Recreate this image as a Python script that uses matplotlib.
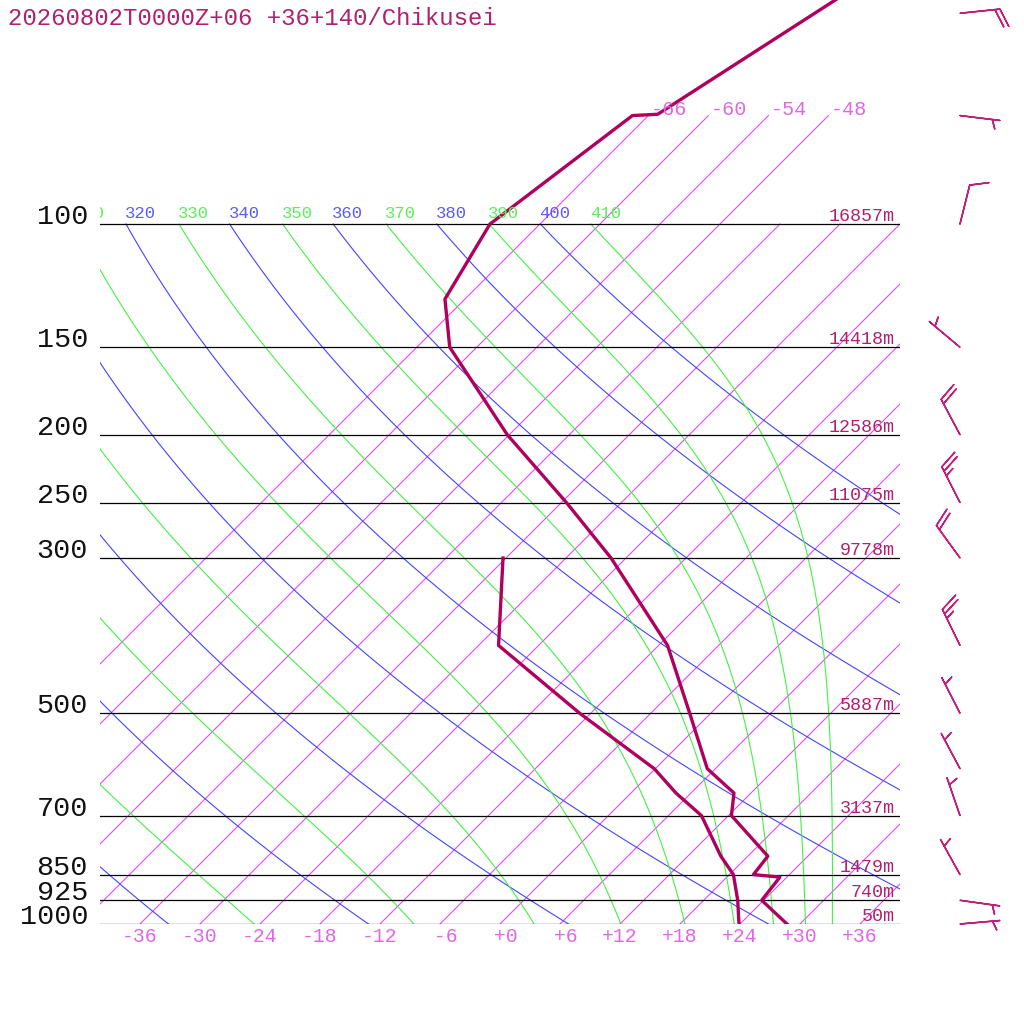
"""Skew-T log-P sounding, Chikusei 2026-08-02 00Z +06h."""

import numpy as np
import matplotlib
matplotlib.use("Agg")
import matplotlib.pyplot as plt
from matplotlib.transforms import Affine2D, blended_transform_factory

plt.rcParams["font.family"] = ["Liberation Mono", "DejaVu Sans Mono"]

TITLE = "20260802T0000Z+06 +36+140/Chikusei"

# temperature profile (hPa, degC)
T_PRES = [1000, 925, 857, 850, 800, 700, 650, 600, 500, 400, 300, 250,
          200, 150, 128, 100, 70, 69.7, 30]
T_VALS = [28.7, 23.8, 23.3, 20.4, 20.0, 12.3, 10.3, 5.2, -2.1, -11.1, -25.5,
          -35.5, -48.2, -62.7, -68.0, -71.0, -67.6, -65.2, -51.0]

# dew point profile
D_PRES = [1000, 925, 850, 800, 700, 650, 600, 500, 400, 300]
D_VALS = [23.9, 21.4, 18.4, 15.3, 9.3, 4.5, -0.1, -13.1, -28.0, -36.3]

# winds (direction deg, speed kt)
W_PRES = [1000, 925, 850, 700, 600, 500, 400, 300, 250, 200, 150, 100, 70, 50]
W_DIR = [85, 98, 331, 341, 332, 333, 334, 324, 333, 332, 310, 14, 97, 84]
W_SPD = [5, 5, 5, 5, 5, 5, 25, 20, 25, 20, 5, 10, 5, 20]

# geopotential heights of the standard levels
H_PRES = [1000, 925, 850, 700, 500, 300, 250, 200, 150, 100]
H_VALS = [50, 740, 1479, 3137, 5887, 9778, 11075, 12586, 14418, 16857]

P_LINES = [100, 150, 200, 250, 300, 500, 700, 850, 925, 1000]
ISOTHERMS = list(range(-66, 37, 6))
THETAS = list(range(240, 401, 20))
THETA_ES = list(range(230, 411, 20))
BOTTOM_T = list(range(-36, 37, 6))

SND_C = "#B0005E"
TXT_C = "#B0206E"
BARB_C = "#C0207A"
ISO_C = "#E04EF0"
ISO_TXT = "#E066E6"
DRY_C = "#4444FF"
DRY_TXT = "#5A5AFF"
WET_C = "#44F044"
WET_TXT = "#5AF05A"


def sat_theta_e(tk, p):
    """Bolton (1980) equivalent potential temperature of saturated air."""
    tc = tk - 273.15
    es = 6.112 * np.exp(17.67 * tc / (tc + 243.5))
    r = 622.0 * es / np.maximum(p - es, 1e-3)
    r = np.minimum(r, 500.0)
    return (tk * (1000.0 / p) ** (0.2854 * (1 - 0.00028 * r))
            * np.exp((3.376 / tk - 0.00254) * r * (1 + 0.00081 * r)))


def pseudo_adiabat(the, p):
    lo = np.full_like(p, 150.0)
    hi = np.full_like(p, 330.0)
    with np.errstate(all="ignore"):
        for _ in range(60):
            mid = 0.5 * (lo + hi)
            warm = sat_theta_e(mid, p) > the
            hi = np.where(warm, mid, hi)
            lo = np.where(warm, lo, mid)
    return 0.5 * (lo + hi) - 273.15


fig = plt.figure(figsize=(10.24, 10.24), dpi=100)
ax = fig.add_axes([100 / 1024, 100 / 1024, 800 / 1024, 924 / 1024])
ax.set_yscale("log")
ax.set_xlim(-40, 40)
ax.set_ylim(1000, 1000 * 10 ** (-924 / 700))
ax.set_axis_off()

# 45 degree skew: one pixel right per pixel up
skew = (ax.transScale + ax.transLimits
        + Affine2D(np.array([[1.0, 924 / 800, 0], [0, 1, 0], [0, 0, 1]]))
        + ax.transAxes)
yaxis = ax.get_yaxis_transform()
label_up = Affine2D().translate(-1, 6)
T_LABEL_MIN = -114   # labels further left fall completely outside the frame

pp = np.logspace(3, 2, 120)

# isotherms
for t in ISOTHERMS:
    top = 70 if t <= -48 else 100
    ax.plot([t, t], [1000, top], transform=skew, color=ISO_C, lw=0.8)
    if t <= -48:
        ax.text(t, 70, f"{t:+d}", transform=skew + Affine2D().translate(2, 1),
                ha="left", va="baseline", fontsize=14.5, color=ISO_TXT)

# dry adiabats
for th in THETAS:
    tt = th * (pp / 1000) ** 0.2857 - 273.15
    ax.plot(tt, pp, transform=skew, color=DRY_C, lw=0.8)
    if tt[-1] > T_LABEL_MIN:
        ax.text(tt[-1], 100, str(th), transform=skew + label_up,
                ha="left", va="baseline", fontsize=12.4, color=DRY_TXT,
                clip_on=True)

# saturated (pseudo) adiabats
for the in THETA_ES:
    tt = pseudo_adiabat(the, pp)
    ax.plot(tt, pp, transform=skew, color=WET_C, lw=0.8)
    if tt[-1] > T_LABEL_MIN:
        ax.text(tt[-1], 100, str(the), transform=skew + label_up,
                ha="left", va="baseline", fontsize=12.4, color=WET_TXT,
                clip_on=True)

# isobars
for p in P_LINES:
    ax.axhline(p, color="black", lw=0.9)
    ax.text(-12 / 800, p, str(p), transform=yaxis, ha="right", va="baseline",
            fontsize=20.5, color="#111111", clip_on=False)

for p, h in zip(H_PRES, H_VALS):
    ax.text(795 / 800, p, f"{h}m", transform=yaxis + Affine2D().translate(0, 3),
            ha="right", va="baseline", fontsize=13.2, color=TXT_C)

for t in BOTTOM_T:
    ax.text(t, 1000, f"{t:+3d}", transform=skew + Affine2D().translate(0, -18),
            ha="center", va="baseline", fontsize=14.2, color=ISO_TXT,
            clip_on=False)

# sounding
ax.plot(T_VALS, T_PRES, transform=skew, color=SND_C, lw=2.4)
ax.plot(D_VALS, D_PRES, transform=skew, color=SND_C, lw=2.4)

# wind barbs
wd = np.radians(W_DIR)
ws = np.array(W_SPD, dtype=float)
u = -ws * np.sin(wd)
v = -ws * np.cos(wd)
ax.barbs(np.full(len(W_PRES), 860 / 800), W_PRES, u, v,
         transform=blended_transform_factory(ax.transAxes, ax.transData),
         length=7.6, sizes=dict(spacing=0.125, height=0.45, width=0.35),
         color=BARB_C, lw=1.1, clip_on=False)

fig.text(8 / 1024, 1 - 25 / 1024, TITLE, ha="left", va="baseline",
         fontsize=17.3, color=TXT_C)

fig.savefig("out.png", dpi=100, facecolor="white")
